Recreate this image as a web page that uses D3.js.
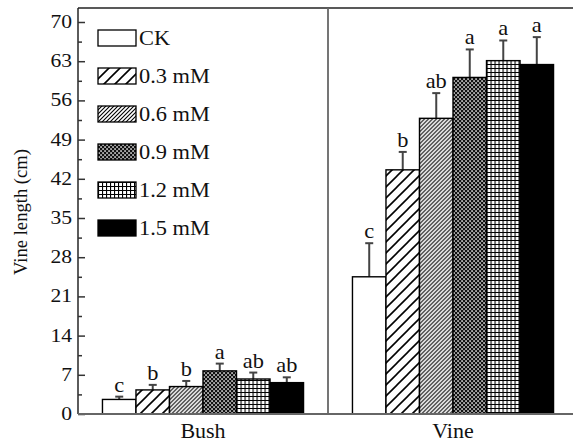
<!DOCTYPE html>
<html>
<head>
<meta charset="utf-8">
<script src="https://cdn.jsdelivr.net/npm/d3@7"></script>
<style>
  body { margin: 0; background: #fff; }
  text { font-family: "Liberation Serif", "DejaVu Serif", serif; fill: #111; }
</style>
</head>
<body>
<svg id="chart" width="573" height="444"></svg>
<script>
const groups = ["Bush", "Vine"];
const treatments = ["CK", "0.3 mM", "0.6 mM", "0.9 mM", "1.2 mM", "1.5 mM"];
const bushMeans = [2.6, 4.3, 4.9, 7.7, 6.25, 5.6];
const bushErrors = [0.5, 0.9, 1.0, 1.3, 1.15, 0.95];
const bushLetters = ["c", "b", "b", "a", "ab", "ab"];
const vineMeans = [24.5, 43.6, 52.8, 60.1, 63.1, 62.4];
const vineErrors = [6.0, 3.2, 4.5, 5.0, 3.6, 4.9];
const vineLetters = ["c", "b", "ab", "a", "a", "a"];
const yTicks = [0, 7, 14, 21, 28, 35, 42, 49, 56, 63, 70];

const rows = [];
groups.forEach((g, gi) => {
  const means = gi === 0 ? bushMeans : vineMeans;
  const errs = gi === 0 ? bushErrors : vineErrors;
  const lets = gi === 0 ? bushLetters : vineLetters;
  treatments.forEach((t, i) => {
    rows.push({ group: g, treatment: t, value: means[i], err: errs[i], letter: lets[i] });
  });
});

const svg = d3.select("#chart");
const margin = { top: 8, left: 78, bottom: 30 };
const plotRight = 578;
const height = 444 - margin.top - margin.bottom;

// fill patterns
const defs = svg.append("defs");
function hatch(id, size, sw) {
  const p = defs.append("pattern").attr("id", id).attr("patternUnits", "userSpaceOnUse")
    .attr("width", size).attr("height", size);
  p.append("rect").attr("width", size).attr("height", size).attr("fill", "#fff");
  p.append("path")
    .attr("d", `M0,${size} L${size},0 M${-size / 4},${size / 4} L${size / 4},${-size / 4} M${size * 0.75},${size * 1.25} L${size * 1.25},${size * 0.75}`)
    .attr("stroke", "#000").attr("stroke-width", sw);
}
hatch("p03", 11, 1.6);
hatch("p06", 4, 1.1);

const dots = defs.append("pattern").attr("id", "p09").attr("patternUnits", "userSpaceOnUse")
  .attr("width", 4).attr("height", 4);
dots.append("rect").attr("width", 4).attr("height", 4).attr("fill", "#111");
dots.append("rect").attr("x", 0.3).attr("y", 0.3).attr("width", 1.5).attr("height", 1.5).attr("fill", "#fff");
dots.append("rect").attr("x", 2.3).attr("y", 2.3).attr("width", 1.5).attr("height", 1.5).attr("fill", "#fff");

const grid = defs.append("pattern").attr("id", "p12").attr("patternUnits", "userSpaceOnUse")
  .attr("width", 4).attr("height", 4);
grid.append("rect").attr("width", 4).attr("height", 4).attr("fill", "#fff");
grid.append("path").attr("d", "M0,0.5 H4 M0.5,0 V4").attr("stroke", "#000").attr("stroke-width", 1.2);

const fills = {
  "CK": "#fff", "0.3 mM": "url(#p03)", "0.6 mM": "url(#p06)",
  "0.9 mM": "url(#p09)", "1.2 mM": "url(#p12)", "1.5 mM": "#000"
};

const x0 = d3.scaleBand().domain(groups).range([margin.left, plotRight]);
const x1 = d3.scaleBand().domain(treatments).range([0, x0.bandwidth()]).paddingOuter(0.73);
const y = d3.scaleLinear().domain([0, 72.5]).range([margin.top + height, margin.top]);

// the original uses a wide Times face, stretch text a bit
const wide = (x, yy, s) => `translate(${x},${yy}) scale(${s},1)`;

// bars
const bars = svg.append("g").selectAll("g").data(rows).enter().append("g")
  .attr("transform", d => `translate(${x0(d.group) + x1(d.treatment)},0)`);

bars.append("line")
  .attr("x1", x1.bandwidth() / 2).attr("x2", x1.bandwidth() / 2)
  .attr("y1", d => y(d.value)).attr("y2", d => y(d.value + d.err))
  .attr("stroke", "#444").attr("stroke-width", 2);
bars.append("line")
  .attr("x1", x1.bandwidth() / 2 - 4).attr("x2", x1.bandwidth() / 2 + 4)
  .attr("y1", d => y(d.value + d.err)).attr("y2", d => y(d.value + d.err))
  .attr("stroke", "#444").attr("stroke-width", 2);

bars.append("rect")
  .attr("x", 0).attr("width", x1.bandwidth())
  .attr("y", d => y(d.value)).attr("height", d => y(0) - y(d.value))
  .attr("fill", d => fills[d.treatment])
  .attr("stroke", "#000").attr("stroke-width", 1.4);

bars.append("text")
  .attr("transform", d => wide(x1.bandwidth() / 2, y(d.value + d.err) - 5, 1.12))
  .attr("text-anchor", "middle").style("font-size", "20px")
  .text(d => d.letter);

// y axis with inward ticks
const yAxis = svg.append("g").attr("transform", `translate(${margin.left},0)`)
  .call(d3.axisRight(y).tickValues(yTicks).tickSize(7).tickFormat(""));
yAxis.selectAll(".tick line").attr("stroke", "#333").attr("stroke-width", 1.5);
yAxis.select(".domain").remove();

svg.append("g").attr("transform", `translate(${margin.left},0)`)
  .call(d3.axisRight(y).tickValues(yTicks.slice(0, -1).map(v => v + 3.5)).tickSize(4).tickFormat(""))
  .call(g => g.select(".domain").remove())
  .selectAll(".tick line").attr("stroke", "#333").attr("stroke-width", 1.5);

svg.append("g").selectAll("text").data(yTicks).enter().append("text")
  .attr("transform", d => wide(margin.left - 6, y(d) + 6, 1.2))
  .attr("text-anchor", "end").style("font-size", "18px")
  .text(d => d);

// frame
svg.append("line").attr("x1", margin.left).attr("x2", margin.left)
  .attr("y1", y(72.5)).attr("y2", y(0)).attr("stroke", "#333").attr("stroke-width", 1.6);
svg.append("line").attr("x1", margin.left).attr("x2", plotRight)
  .attr("y1", y(72.5)).attr("y2", y(72.5)).attr("stroke", "#222").attr("stroke-width", 1.6);
svg.append("line").attr("x1", margin.left).attr("x2", plotRight)
  .attr("y1", y(0)).attr("y2", y(0)).attr("stroke", "#666").attr("stroke-width", 2.2);
svg.append("line").attr("x1", x0("Vine")).attr("x2", x0("Vine"))
  .attr("y1", y(72.5)).attr("y2", y(0)).attr("stroke", "#666").attr("stroke-width", 1.8);

// x labels
svg.append("g").selectAll("text").data(groups).enter().append("text")
  .attr("transform", d => wide(x0(d) + x0.bandwidth() / 2, 438, 1.1))
  .attr("text-anchor", "middle").style("font-size", "20px")
  .text(d => d);

svg.append("text")
  .attr("transform", "translate(27,212) rotate(-90)")
  .attr("text-anchor", "middle").style("font-size", "19px")
  .attr("textLength", 126).attr("lengthAdjust", "spacingAndGlyphs")
  .text("Vine length (cm)");

// legend
const legend = svg.append("g").selectAll("g").data(treatments).enter().append("g")
  .attr("transform", (d, i) => `translate(98,${30 + i * 38})`);
legend.append("rect").attr("width", 38).attr("height", 16)
  .attr("fill", d => fills[d]).attr("stroke", "#000").attr("stroke-width", 1.3);
legend.append("text").attr("transform", wide(41, 15, 1.12))
  .style("font-size", "20px").text(d => d);
</script>
</body>
</html>
